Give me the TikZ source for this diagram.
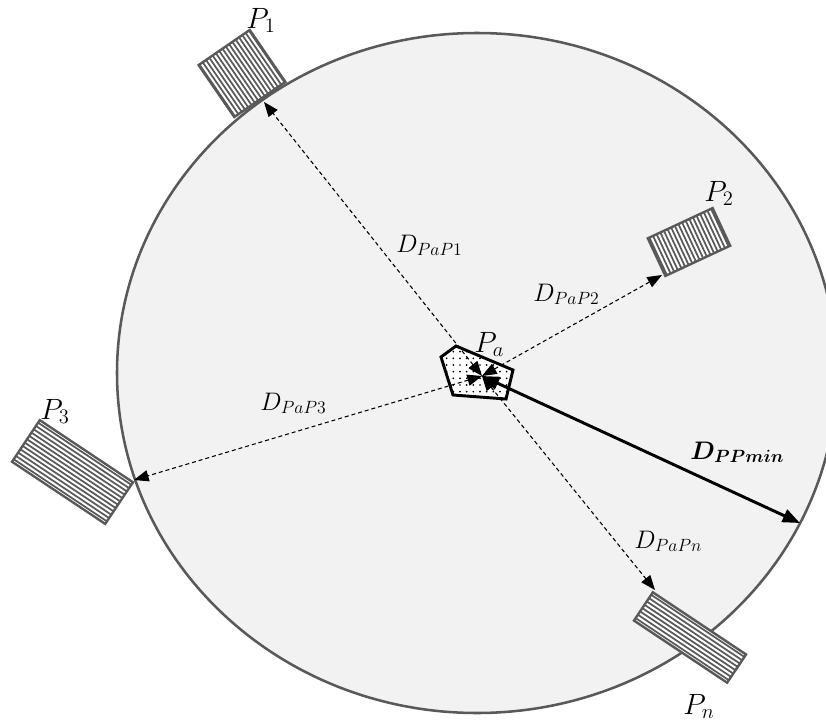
\RequirePackage{fix-cm}
\documentclass[tikz,border=0pt]{standalone}
\usepackage{bm}
\usetikzlibrary{arrows.meta,patterns.meta}
\definecolor{ringfill}{HTML}{F2F2F2}
\definecolor{edgegray}{HTML}{595959}
\tikzset{
  lbl/.style={anchor=base west,inner sep=0pt,font=\fontsize{22}{24}\selectfont},
  dlbl/.style={anchor=base west,inner sep=0pt,font=\fontsize{19}{21}\selectfont},
  boxline/.style={draw=edgegray,line width=1.8pt},
  stripe/.style={draw=edgegray,line width=1.3pt},
  dist/.style={line width=0.8pt,dash pattern=on 3pt off 2.2pt,
    {Triangle[length=11pt,width=8.5pt]}-{Triangle[length=11pt,width=8.5pt]}},
  mindist/.style={line width=2.2pt,
    {Triangle[length=13pt,width=10pt]}-{Triangle[length=13pt,width=10pt]}},
}
\newcommand\stripebox[5]{%
  \begin{scope}[shift={(#1)},rotate=-#2]
    \begin{scope}
      \clip (-#3/2,-#4/2) rectangle (#3/2,#4/2);
      \fill[white] (-#3/2,-#4/2) rectangle (#3/2,#4/2);
      \foreach \yy in {-42,-38,...,42} \draw[stripe] (-#3/2-5,\yy) -- (#3/2+5,\yy);
    \end{scope}
    \draw[boxline] (-#3/2,-#4/2) rectangle (#3/2,#4/2);
  \end{scope}}
\begin{document}
\begin{tikzpicture}[x=0.75pt,y=-0.75pt]
\useasboundingbox (0,0) rectangle (826,725);
\clip (0,0) rectangle (826,725);
% big region
\draw[fill=ringfill,draw=edgegray,line width=1.9pt] (477,373) ellipse [x radius=360, y radius=340];
% hatched boxes
\stripebox{242,73.5}{55.5}{63}{62}{}
\stripebox{689,242}{65}{41.5}{71.5}{}
\stripebox{72.5,472}{33.7}{112}{50}{}
\stripebox{690,637.5}{33.7}{112}{34}{}
% Pa polygon
\fill[white] (456,346) -- (441,357) -- (453,395) -- (506,399) -- (513,370) -- cycle;
\draw[line width=2.2pt,pattern={Dots[distance=5pt,radius=0.7pt]}]
  (456,346) -- (441,357) -- (453,395) -- (506,399) -- (513,370) -- cycle;
% coordinates
\coordinate (c) at (482,376);
\coordinate (t1) at (264,102);
\coordinate (t2) at (662,275);
\coordinate (t3) at (134,480);
\coordinate (tn) at (655,590);
\coordinate (tm) at (800,523);
% connectors
\draw[dist] (c) -- (t1);
\draw[dist] (c) -- (t2);
\draw[dist] (c) -- (t3);
\draw[dist] (c) -- (tn);
\draw[mindist] (c) -- (tm);
% labels
\node[lbl] (l1) at (246,28) {$P_1$};
\node[lbl] (l2) at (704,201) {$P_2$};
\node[lbl] (l3) at (40,419) {$P_3$};
\node[lbl] (ln) at (683,714) {$P_n$};
\node[lbl] (la) at (474,352) {$P_a$};
\node[dlbl] (d1) at (396,252) {$D_{PaP1}$};
\node[dlbl] (d2) at (533,301) {$D_{PaP2}$};
\node[dlbl] (d3) at (260,410) {$D_{PaP3}$};
\node[dlbl] (dn) at (634,548) {$D_{PaPn}$};
\node[dlbl] (dm) at (690,459) {$\bm{D_{PPmin}}$};
\end{tikzpicture}
\end{document}
